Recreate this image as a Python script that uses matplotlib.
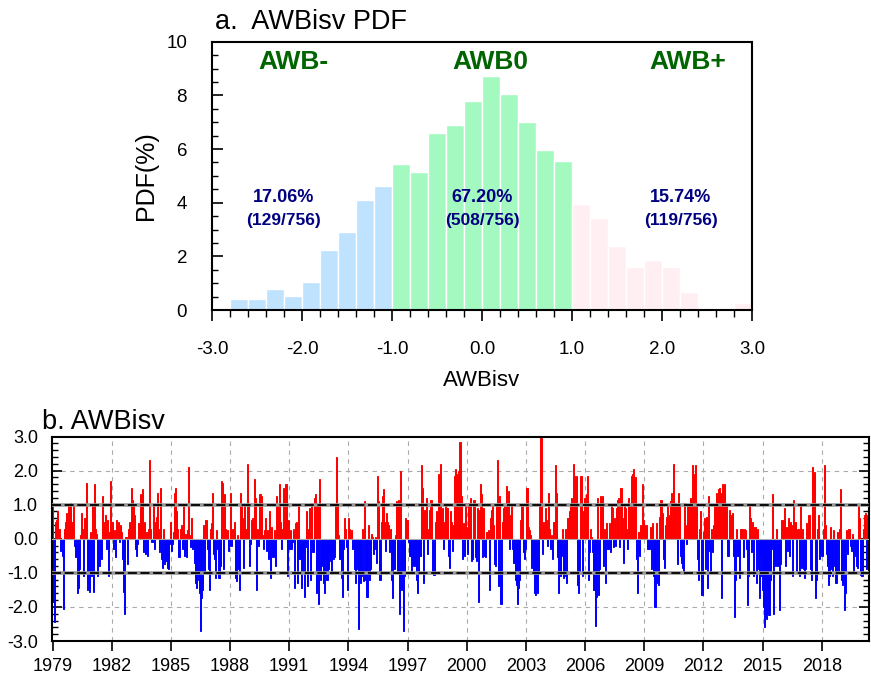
import numpy as np
import matplotlib
matplotlib.use('Agg')
import matplotlib.pyplot as plt
from matplotlib.ticker import MultipleLocator

plt.rcParams['font.family'] = ['Liberation Sans', 'DejaVu Sans']

# ---- panel a: PDF of AWBisv (counts per 0.2 bin) ----
BIN_EDGES = [-3.0, -2.8, -2.6, -2.4, -2.2, -2.0, -1.8, -1.6, -1.4, -1.2, -1.0,
             -0.8, -0.6, -0.4, -0.2, 0.0, 0.2, 0.4, 0.6, 0.8, 1.0,
             1.2, 1.4, 1.6, 1.8, 2.0, 2.2, 2.4, 2.6, 2.8, 3.0]
NEG_COUNTS = [0, 3, 3, 6, 4, 8, 17, 22, 31, 35]
MID_COUNTS = [41, 39, 50, 52, 59, 66, 61, 53, 45, 42]
POS_COUNTS = [30, 26, 18, 12, 14, 12, 5, 0, 0, 2]
TOTAL = 756

GROUP_LABELS = ['AWB-', 'AWB0', 'AWB+']
GROUP_PCT = ['17.06%', '67.20%', '15.74%']
GROUP_FRAC = ['(129/756)', '(508/756)', '(119/756)']

# ---- panel b: AWBisv time series, 18 values per row ----
AWB_ROWS = [
    [1.05, -1.85, -2.45, 0.5, 0.55, 0.8, 0.3, -0.35, -0.15, -0.5, -2.05, 0.3, 0.5, 0.75, 0.2, 1.0, 0.6, 1.05],
    [0.5, 1.0, -0.2, -0.55, -0.5, -1.6, -1.45, -0.9, 0.1, 0.75, 0.3, -1.1, 0.6, 1.65, -1.5, -1.2, -1.55, 0.2],
    [-1.1, 1.0, -1.55, 1.6, 0.3, 0.15, -1.1, -0.8, -0.3, -0.6, 1.25, 0.5, 0.2, 0.7, -0.3, 0.55, -1.1, 0.2],
    [1.7, 0.5, -0.3, 0.25, -0.55, 0.55, 0.35, 0.5, -0.1, 0.4, 0.2, -0.6, -1.55, -2.2, 0.05, -0.75, 0.3, 0.5],
    [0.1, 1.5, 1.15, 1.0, 0.7, -0.3, -0.5, -0.15, 0.45, 1.3, 1.05, 1.45, -0.4, 0.5, -0.45, 0.2, -0.5, 0.3],
    [2.3, 0.3, -0.1, 1.0, -0.3, 0.5, 0.65, 1.35, 0.3, -0.4, 1.5, -0.6, -0.85, 0.3, -0.75, -0.65, -0.85, -0.9],
    [-0.15, 0.5, -0.35, -0.15, 0.2, 1.35, 1.5, 0.8, 0.3, -0.55, 0.3, 0.4, -0.3, 1.0, -0.5, 0.15, -0.55, 0.25],
    [2.1, 0.1, -0.25, 0.6, -0.3, -0.7, -1.3, -1.45, -0.5, -1.2, -1.6, -2.7, -1.75, -1.5, 0.4, -1.0, 0.55, -0.3],
    [-0.9, -1.5, 0.3, 0.45, 1.35, -0.45, -0.6, -1.15, 0.25, -0.3, -1.15, -0.8, 1.7, 1.65, -0.9, 1.3, 0.3, 0.15],
    [0.25, -0.35, -0.2, 1.35, -0.2, 0.3, 0.5, -1.15, -1.25, 0.1, -0.9, -1.5, 1.35, 1.0, 0.6, -0.85, 1.0, 0.3],
    [2.2, 1.0, -0.8, -0.15, 0.55, 0.6, 0.3, 1.75, 1.2, -1.5, 0.3, -0.2, 1.3, 1.25, 0.1, -0.3, 0.25, 0.6],
    [-0.35, 0.25, -0.6, 0.8, -1.15, 0.35, -0.55, 0.25, -0.8, 1.25, 1.0, 0.55, 1.6, 0.5, -0.3, 0.3, 1.5, 0.2],
    [1.6, -1.1, 0.55, -0.3, 0.25, -0.3, -0.1, 0.3, -1.45, 0.45, 0.5, -1.3, 0.95, -0.6, -1.45, -1.0, -0.4, -1.7],
    [-0.25, 0.8, -1.4, 0.3, 0.9, -1.2, 1.05, -0.4, 1.2, 1.3, -1.6, 1.0, -1.9, 1.75, -1.2, -0.8, -0.75, -1.3],
    [-1.6, -0.6, -1.2, -0.9, -0.5, -0.65, -1.0, -0.55, -0.6, -0.55, 1.0, 2.4, 1.0, 0.1, -0.6, -1.15, -1.7, -0.3],
    [0.6, 0.3, -0.25, -1.5, 0.6, 0.3, 0.15, 0.25, -0.3, -0.9, -1.3, -0.4, -0.9, -2.65, -1.2, -1.3, -1.1, 0.3],
    [-1.25, 1.1, -1.2, -1.7, 0.4, -1.2, -0.9, 0.15, 0.05, -0.45, -0.3, 0.05, -0.7, 1.85, 1.1, -1.2, 0.5, 1.25],
    [1.45, 0.5, -0.35, 0.75, 0.5, 0.4, -0.4, 0.3, -1.2, -1.75, -0.9, 0.1, 1.1, -1.0, 1.15, -2.2, 2.0, -1.5],
    [-1.15, -2.7, -1.1, 0.6, 0.55, -0.1, -0.5, -0.5, -1.0, -0.8, -0.75, -0.8, -0.7, -1.2, -1.6, -1.0, -0.5, 2.15],
    [1.5, -1.3, 0.85, 0.5, 1.2, -0.45, 0.3, 0.85, 1.15, 1.15, -1.0, -1.05, 0.5, 0.8, 0.55, 1.9, 1.0, 2.2],
    [0.6, 0.9, -0.3, 0.5, 1.0, 0.9, -0.5, -0.85, 0.8, 0.5, -0.35, 0.4, 1.85, 2.05, 1.9, 1.85, 2.0, 2.85],
    [1.25, -0.6, 0.45, -0.5, 1.05, 0.35, -0.45, 1.05, 0.3, 1.2, -0.65, -0.6, 1.15, -0.55, -0.65, 0.9, -1.85, 0.85],
    [1.6, 1.3, -0.55, 0.9, -0.5, -0.55, 0.2, 0.25, -1.5, 0.6, 0.85, 1.0, 0.4, -0.75, -0.8, 1.0, 2.3, -1.4],
    [1.25, -1.9, 0.5, 0.9, 0.95, 0.9, 1.55, 1.0, 1.4, -0.3, 0.7, 1.0, -0.3, -0.7, -1.2, -1.35, -1.9, -1.45],
    [-1.2, 0.55, 1.0, 1.0, -0.4, -0.6, -0.3, 1.5, 0.35, 0.25, 0.1, -0.85, -0.5, -1.0, -1.6, -1.65, -1.2, -1.6],
    [-1.0, 1.0, 2.95, -0.45, 0.5, 0.3, 0.9, 0.55, -0.2, 1.35, 0.3, -0.3, 0.1, -0.6, 0.5, 2.15, 1.35, -0.55],
    [-1.6, -0.4, -1.1, -0.5, 0.3, -1.15, -1.1, 0.3, -1.3, 0.6, 0.8, 0.95, 1.2, 1.0, 2.2, 1.85, 1.3, 1.85],
    [-1.35, -1.6, -1.0, 1.85, -1.1, 0.8, 1.2, 0.5, 1.3, 1.85, -1.2, -0.4, 0.3, 0.05, -0.4, -1.5, -2.55, -1.7],
    [1.2, -1.65, -0.9, 1.25, 1.2, 1.25, -0.8, 0.3, -1.3, 0.45, -0.3, 0.45, -0.4, 1.0, 0.9, -0.25, 0.6, -0.2],
    [0.9, 1.15, 1.2, -0.25, 1.5, 0.6, -0.7, 1.0, 0.9, 0.3, -0.3, 1.2, 1.0, 0.7, 1.85, 1.9, 2.05, 1.8],
    [-0.6, -1.6, 0.2, -0.5, 0.4, 0.3, 1.6, 0.55, 0.4, 0.3, 0.4, -0.3, -0.3, 0.35, -0.9, 0.45, -1.1, -2.0],
    [-2.0, 0.45, -1.3, -1.35, 0.65, 1.15, 0.75, -0.6, -0.85, 0.4, 0.65, 0.95, 0.5, 0.7, 1.1, 1.35, 0.6, 2.2],
    [1.05, 1.0, -0.75, 1.35, 1.0, -0.5, -0.7, -0.85, -1.0, 1.05, 0.4, -0.15, 1.0, 0.6, 1.2, 1.15, 2.15, 1.85],
    [1.9, 2.15, 1.0, -0.6, -1.2, 0.3, 0.8, -1.65, 0.2, 0.6, -0.9, 0.65, -1.45, 1.25, -0.35, -1.0, 0.3, -0.4],
    [0.4, 0.95, 1.35, 0.8, 1.45, 1.5, 1.35, -1.75, 1.6, 1.4, 1.6, 0.85, 0.95, -0.5, 0.85, 0.5, 0.7, 0.75],
    [-0.5, -2.3, -1.2, 0.3, -0.5, -0.5, -1.15, 0.3, 0.3, -0.55, 0.3, 0.25, -0.3, -1.95, -1.1, 1.0, 0.6, -0.4],
    [0.5, -1.1, 0.35, -1.3, 0.3, -0.9, -1.75, -0.5, -1.1, -1.5, -2.0, -2.6, -1.8, -2.35, -1.6, -2.25, -1.2, -0.3],
    [1.3, -2.2, -0.75, -0.8, 0.3, -0.8, -0.75, -2.1, -0.75, 0.55, 0.35, 0.9, -0.8, 0.35, -0.35, 0.6, -0.5, 0.5],
    [0.4, -1.1, 1.15, 0.5, -0.95, 0.3, 0.3, -1.1, 0.95, -0.85, 0.3, -0.9, -1.15, -0.9, 0.45, 0.35, 0.7, -0.9],
    [-1.2, 2.1, 1.8, 1.95, -1.75, -1.2, 0.3, 0.7, -0.6, -0.4, -0.5, 0.3, 2.15, 0.4, -0.45, -0.8, -1.35, -1.1],
    [0.35, -0.9, -1.1, 0.25, -0.8, -1.3, 0.2, -1.0, 0.3, 1.45, -1.2, -1.35, -0.7, -2.1, -1.6, 0.25, -0.45, 0.3],
    [-0.2, -0.35, 0.15, -1.0, -0.5, -0.3, -0.8, -0.85, 0.95, 0.6, -1.05, -1.1, 0.3, 0.7, 0.75, -0.9, 0.7, 0.55],
]
TICK_YEARS = list(range(1979, 2019, 3))
STEPS_PER_YEAR = 18.25

COLOURS = {
    'neg': '#BFE2FF',
    'mid': '#A3F9C0',
    'pos': '#FFEEF2',
    'label': '#006400',
    'pct': '#000080',
}


def plot_pdf(fig):
    ax = fig.add_axes([212 / 871, 1 - 310 / 677, 540 / 871, 268.3 / 677])

    edges = np.array(BIN_EDGES)
    centers = (edges[:-1] + edges[1:]) / 2
    counts = NEG_COUNTS + MID_COUNTS + POS_COUNTS
    pdf = np.array(counts) / TOTAL * 100
    colours = [COLOURS['neg']] * 10 + [COLOURS['mid']] * 10 + [COLOURS['pos']] * 10

    ax.bar(centers, pdf, width=0.2, color=colours, edgecolor='white', linewidth=1.0)

    ax.set_xlim(-3, 3)
    ax.set_ylim(0, 10)
    ax.set_xticks([-3, -2, -1, 0, 1, 2, 3])
    ax.set_xticklabels(['-3.0', '-2.0', '-1.0', '0.0', '1.0', '2.0', '3.0'])
    ax.xaxis.set_minor_locator(MultipleLocator(0.2))
    ax.yaxis.set_major_locator(MultipleLocator(2))
    ax.yaxis.set_minor_locator(MultipleLocator(0.5))
    ax.tick_params(axis='x', which='major', direction='out', length=8, width=1.2, labelsize=13.5, pad=14)
    ax.tick_params(axis='x', which='minor', direction='out', length=5, width=1.0)
    ax.tick_params(axis='y', which='major', direction='in', length=8, width=1.2, labelsize=13.5, pad=18)
    ax.tick_params(axis='y', which='minor', direction='in', length=4, width=1.0)
    for s in ax.spines.values():
        s.set_linewidth(1.5)

    ax.set_xlabel('AWBisv', fontsize=16, labelpad=9)
    ax.set_ylabel('PDF(%)', fontsize=18, labelpad=6)

    for x, lab in zip([-2.1, 0.09, 2.29], GROUP_LABELS):
        ax.text(x, 9.25, lab, ha='center', va='center', fontsize=19,
                fontweight='bold', color=COLOURS['label'])
    for x, pct, frac in zip([-2.21, 0.0, 2.21], GROUP_PCT, GROUP_FRAC):
        ax.text(x, 4.21, pct, ha='center', va='center', fontsize=13,
                fontweight='bold', color=COLOURS['pct'])
        ax.text(x, 3.35, frac, ha='center', va='center', fontsize=12.5,
                fontweight='bold', color=COLOURS['pct'])

    fig.text(215 / 871, 1 - 29 / 677, 'a.  AWBisv PDF', fontsize=19.5, va='baseline')


def plot_series(fig):
    ax = fig.add_axes([52 / 871, 1 - 641 / 677, 817 / 871, 204.5 / 677])

    values = np.concatenate([np.array(r) for r in AWB_ROWS])
    idx = np.arange(len(values))
    pos = values > 0

    ax.bar(idx[pos], values[pos], width=1.0, color='red', edgecolor='red',
           linewidth=0.7, zorder=2)
    ax.bar(idx[~pos], values[~pos], width=1.0, color='blue', edgecolor='blue',
           linewidth=0.7, zorder=2)

    ticks = [(y - 1979) * STEPS_PER_YEAR for y in TICK_YEARS]
    for t in ticks[1:]:
        ax.axvline(t, color='#AAAAAA', linestyle=(0, (4, 4)), linewidth=0.8, zorder=1)
    for yv in (-2, 2):
        ax.axhline(yv, color='#AAAAAA', linestyle=(0, (4, 4)), linewidth=0.8, zorder=1)
    ax.axhline(0, color='#AAAAAA', linewidth=0.8, zorder=3)
    for yv in (-1, 1):
        ax.axhline(yv, color='#999999', linewidth=2.6, zorder=3)
        ax.axhline(yv, color='black', linestyle=(0, (5, 2)), linewidth=1.3, zorder=4)

    ax.set_xlim(-0.5, len(values) - 0.5)
    ax.set_ylim(-3, 3)
    ax.set_xticks(ticks)
    ax.set_xticklabels([str(y) for y in TICK_YEARS])
    ax.set_yticks([-3, -2, -1, 0, 1, 2, 3])
    ax.set_yticklabels(['-3.0', '-2.0', '-1.0', '0.0', '1.0', '2.0', '3.0'])
    ax.yaxis.set_minor_locator(MultipleLocator(0.2))
    ax.tick_params(axis='x', which='major', direction='out', length=7, width=1.2, labelsize=13, pad=5)
    ax.tick_params(axis='y', which='major', direction='in', length=7, width=1.2,
                   labelsize=13, right=True, pad=10)
    ax.tick_params(axis='y', which='minor', direction='in', length=4, width=1.0, right=True)
    for s in ax.spines.values():
        s.set_linewidth(1.5)

    fig.text(42 / 871, 1 - 429 / 677, 'b. AWBisv', fontsize=19.5, va='baseline')


if __name__ == '__main__':
    fig = plt.figure(figsize=(8.71, 6.77), dpi=100)
    plot_pdf(fig)
    plot_series(fig)
    fig.savefig('out.png', dpi=100)
